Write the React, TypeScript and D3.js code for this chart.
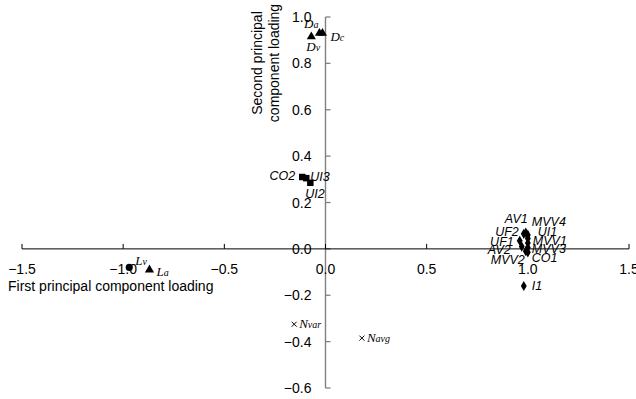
import * as d3 from 'd3';

// group D (triangles, top)
const dNames = ['Da', 'Dv', 'Dc'];
const dX = [-0.03, -0.07, -0.015];
const dY = [0.93, 0.915, 0.93];

// group L (left)
const lNames = ['Lv', 'La'];
const lX = [-0.97, -0.87];
const lY = [-0.08, -0.09];

// squares
const sqNames = ['CO2', 'UI3', 'UI2'];
const sqX = [-0.115, -0.095, -0.075];
const sqY = [0.31, 0.305, 0.285];

// diamonds (right cluster)
const dmNames = ['UF2', 'AV1', 'MVV4', 'UI1', 'UF1', 'MVV1', 'AV2', 'MVV3', 'MVV2', 'CO1', 'I1'];
const dmX = [0.98, 0.99, 1.0, 1.0, 0.96, 1.0, 0.97, 1.0, 0.99, 1.0, 0.98];
const dmY = [0.065, 0.07, 0.06, 0.045, 0.035, 0.025, 0.01, 0.005, -0.01, -0.015, -0.16];

// crosses
const nNames = ['Nvar', 'Navg'];
const nX = [-0.155, 0.18];
const nY = [-0.325, -0.385];

const xTicks = [-1.5, -1.0, -0.5, 0.0, 0.5, 1.0, 1.5];
const yTicks = [1.0, 0.8, 0.6, 0.4, 0.2, 0.0, -0.2, -0.4, -0.6];

// label offsets [dx, dy, anchor]
const labelPos: Record<string, [number, number, string]> = {
  Da: [-1, -9, 'end'],
  Dv: [-5, 10, 'start'],
  Dc: [8, 4, 'start'],
  Lv: [6, -6, 'start'],
  La: [7, 2, 'start'],
  CO2: [-7, -1, 'end'],
  UI3: [4, -2, 'start'],
  UI2: [-5, 11, 'start'],
  UF2: [-5, -2, 'end'],
  AV1: [2, -14, 'end'],
  MVV4: [4, -13, 'start'],
  UI1: [10, -7, 'start'],
  UF1: [-6, 1, 'end'],
  MVV1: [5, -3, 'start'],
  AV2: [-11, 3, 'end'],
  MVV3: [4, 1, 'start'],
  MVV2: [-1, 8, 'end'],
  CO1: [4, 5, 'start'],
  I1: [8, 0, 'start'],
  Nvar: [5, 0, 'start'],
  Navg: [5, 0, 'start'],
};

const W = 636;
const H = 399;
const sans = 'Liberation Sans, Arial, sans-serif';
const serif = 'Liberation Serif, Times New Roman, serif';

const x = d3.scaleLinear().domain([-1.5, 1.5]).range([22, 629]);
const y = d3.scaleLinear().domain([1.0, -0.6]).range([17, 388]);

const fmt = d3.format('.1f');

const SerifLabel = ({ name, px, py }: { name: string; px: number; py: number }) => {
  const [dx, dy, anchor] = labelPos[name];
  return (
    <text x={px + dx} y={py + dy + 4} textAnchor={anchor} fontFamily={serif}
      fontStyle="italic" fontSize={13}>
      {name[0]}
      <tspan fontSize={10}>{name.slice(1)}</tspan>
    </text>
  );
};

const SansLabel = ({ name, px, py }: { name: string; px: number; py: number }) => {
  const [dx, dy, anchor] = labelPos[name];
  return (
    <text x={px + dx} y={py + dy + 4.5} textAnchor={anchor} fontFamily={sans}
      fontStyle="italic" fontSize={12.5}>
      {name}
    </text>
  );
};

export default function App() {
  const tri = d3.symbol(d3.symbolTriangle, 36)()!;
  const sq = d3.symbol(d3.symbolSquare, 42)()!;
  const dia = d3.symbol(d3.symbolDiamond, 30)()!;
  const circ = d3.symbol(d3.symbolCircle, 40)()!;
  const x0 = x(0);
  const y0 = y(0);

  return (
    <svg width={W} height={H} style={{ position: 'absolute', left: 0, top: 0 }}>
      <rect width={W} height={H} fill="#fff" />

      {/* y axis */}
      <line x1={x0} x2={x0} y1={y(1.0)} y2={y(-0.6)} stroke="#808080" strokeWidth={1.4} />
      {yTicks.map(t => (
        <g key={t}>
          <line x1={x0} x2={x0 + 5} y1={y(t)} y2={y(t)} stroke="#808080" strokeWidth={1.3} />
          <text x={x0 - 14} y={y(t) + 5} textAnchor="end" fontFamily={sans} fontSize={14}>
            {fmt(t)}
          </text>
        </g>
      ))}

      {/* x axis */}
      <line x1={x(-1.5)} x2={x(1.5)} y1={y0} y2={y0} stroke="#000" strokeWidth={1} />
      {xTicks.map(t => (
        <g key={t}>
          <line x1={x(t)} x2={x(t)} y1={y0} y2={y0 - 5} stroke="#000" strokeWidth={1} />
          <text x={x(t)} y={y0 + 25} textAnchor="middle" fontFamily={sans} fontSize={14}>
            {fmt(t)}
          </text>
        </g>
      ))}

      <text x={8} y={y0 + 42} fontFamily={sans} fontSize={14}>First principal component loading</text>
      <g transform={`translate(${x0 - 64},63) rotate(-90)`}>
        <text x={0} y={0} textAnchor="middle" fontFamily={sans} fontSize={14}>Second principal</text>
        <text x={0} y={17} textAnchor="middle" fontFamily={sans} fontSize={14}>component loading</text>
      </g>

      {/* triangles D */}
      {dNames.map((n, i) => (
        <g key={n}>
          <path d={tri} transform={`translate(${x(dX[i])},${y(dY[i])})`} fill="#000" />
          <SerifLabel name={n} px={x(dX[i])} py={y(dY[i])} />
        </g>
      ))}

      {/* L points */}
      <path d={circ} transform={`translate(${x(lX[0])},${y(lY[0])})`} fill="#000" />
      <path d={tri} transform={`translate(${x(lX[1])},${y(lY[1])})`} fill="#000" />
      {lNames.map((n, i) => (
        <SerifLabel key={n} name={n} px={x(lX[i])} py={y(lY[i])} />
      ))}

      {/* squares */}
      {sqNames.map((n, i) => (
        <g key={n}>
          <path d={sq} transform={`translate(${x(sqX[i])},${y(sqY[i])})`} fill="#000" />
          <SansLabel name={n} px={x(sqX[i])} py={y(sqY[i])} />
        </g>
      ))}

      {/* diamonds */}
      {dmNames.map((n, i) => (
        <path key={n} d={dia} transform={`translate(${x(dmX[i])},${y(dmY[i])})`} fill="#000" />
      ))}
      {dmNames.map((n, i) => (
        <SansLabel key={n} name={n} px={x(dmX[i])} py={y(dmY[i])} />
      ))}

      {/* crosses */}
      {nNames.map((n, i) => (
        <g key={n} transform={`translate(${x(nX[i])},${y(nY[i])})`}>
          <path d="M-2.5,-2.5L2.5,2.5M-2.5,2.5L2.5,-2.5" stroke="#000" strokeWidth={1} />
        </g>
      ))}
      {nNames.map((n, i) => (
        <SerifLabel key={n} name={n} px={x(nX[i])} py={y(nY[i])} />
      ))}
    </svg>
  );
}
